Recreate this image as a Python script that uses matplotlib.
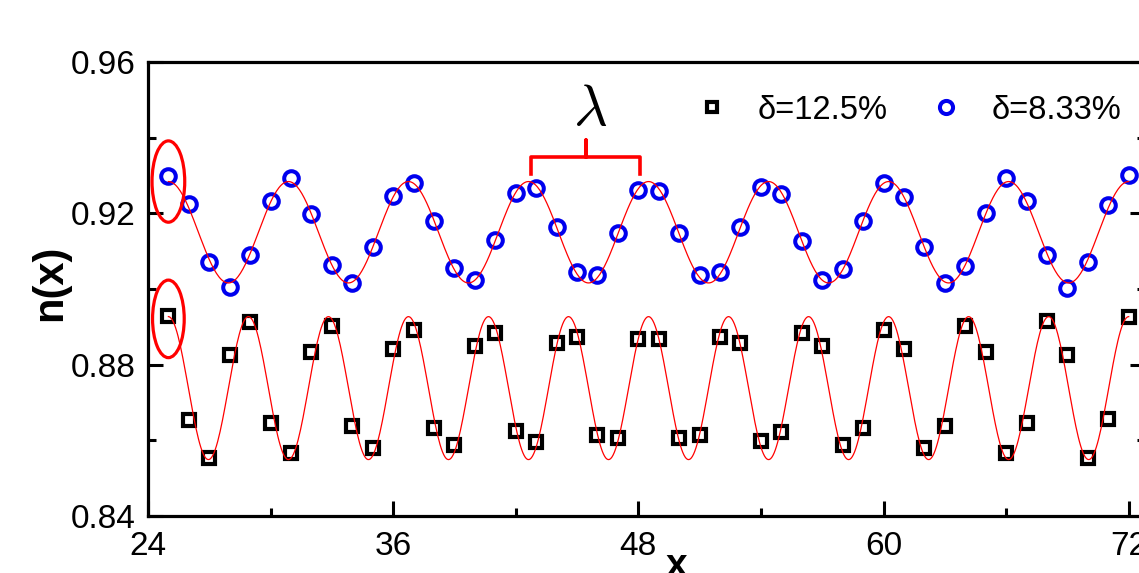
import matplotlib
matplotlib.use('Agg')
import matplotlib.pyplot as plt
from matplotlib.patches import Ellipse
from matplotlib.ticker import MultipleLocator
import numpy as np

plt.rcParams['font.family'] = ['Liberation Sans', 'DejaVu Sans']
plt.rcParams['mathtext.fontset'] = 'cm'

# sample positions
x = [25, 26, 27, 28, 29, 30, 31, 32, 33, 34, 35, 36, 37, 38, 39, 40,
     41, 42, 43, 44, 45, 46, 47, 48, 49, 50, 51, 52, 53, 54, 55, 56,
     57, 58, 59, 60, 61, 62, 63, 64, 65, 66, 67, 68, 69, 70, 71, 72]

# delta = 12.5 %
n_125 = [0.8929, 0.8654, 0.8552, 0.8825, 0.8914, 0.8647, 0.8567, 0.8834,
         0.8902, 0.8638, 0.8579, 0.8841, 0.8892, 0.8632, 0.8588, 0.8849,
         0.8883, 0.8625, 0.8596, 0.8858, 0.8874, 0.8614, 0.8605, 0.8867,
         0.8867, 0.8605, 0.8614, 0.8874, 0.8858, 0.8599, 0.8623, 0.8883,
         0.8849, 0.8588, 0.8632, 0.8892, 0.8841, 0.8579, 0.8638, 0.8902,
         0.8834, 0.8566, 0.8645, 0.8916, 0.8825, 0.8552, 0.8656, 0.8927]

# delta = 8.33 %
n_833 = [0.9299, 0.9225, 0.9072, 0.9004, 0.9090, 0.9233, 0.9293, 0.9198,
         0.9063, 0.9017, 0.9112, 0.9246, 0.9279, 0.9181, 0.9055, 0.9024,
         0.9129, 0.9253, 0.9268, 0.9165, 0.9046, 0.9037, 0.9147, 0.9262,
         0.9260, 0.9147, 0.9037, 0.9046, 0.9165, 0.9270, 0.9251, 0.9128,
         0.9024, 0.9052, 0.9181, 0.9281, 0.9244, 0.9110, 0.9015, 0.9062,
         0.9200, 0.9293, 0.9233, 0.9090, 0.9003, 0.9072, 0.9222, 0.9301]

# sine fits shown as red lines: mean, amplitude, wavelength, crest position
fit_125 = [0.8738, 0.0189, 47 / 12, 48.5]
fit_833 = [0.9150, 0.0134, 47 / 8, 48.5]

labels = ['\u03b4=12.5%', '\u03b4=8.33%']


def fit_curve(p, xs):
    return p[0] + p[1] * np.cos(2 * np.pi * (xs - p[3]) / p[2])


fig = plt.figure(figsize=(11.39, 5.73), dpi=100)
ax = fig.add_axes([0.1299, 0.0995, 0.8754, 0.7923])

xs = np.linspace(x[0], x[-1], 800)
ax.plot(x, n_125, ls='none', marker='s', ms=8.3, mew=3.0, mec='black',
        mfc='none', label=labels[0], zorder=3)
ax.plot(x, n_833, ls='none', marker='o', ms=10.5, mew=2.9, mec='#0000ee',
        mfc='none', label=labels[1], zorder=3)
ax.plot(xs, fit_curve(fit_125, xs), color='red', lw=0.9, zorder=4)
ax.plot(xs, fit_curve(fit_833, xs), color='red', lw=0.9, zorder=4)

# red ellipses round the first point of each series
ax.add_patch(Ellipse((x[0], n_833[0] - 0.0015), 1.6, 0.0215, fill=False,
                     ec='red', lw=2.3, zorder=5))
ax.add_patch(Ellipse((x[0], n_125[0] - 0.0008), 1.55, 0.0205, fill=False,
                     ec='red', lw=2.3, zorder=5))

# wavelength bracket
bx = [42.75, 42.75, 45.45, 45.45, 45.45, 48.1, 48.1]
by = [0.9305, 0.9350, 0.9350, 0.9395, 0.9350, 0.9350, 0.9305]
ax.plot(bx, by, color='red', lw=2.6, solid_joinstyle='round', zorder=5)
ax.text(45.65, 0.9473, r'$\lambda$', fontsize=42, ha='center', va='center')

ax.set_xlim(24, 72.8)
ax.set_ylim(0.84, 0.96)
ax.xaxis.set_major_locator(MultipleLocator(12))
ax.xaxis.set_minor_locator(MultipleLocator(6))
ax.yaxis.set_major_locator(MultipleLocator(0.04))
ax.yaxis.set_minor_locator(MultipleLocator(0.02))
ax.set_yticklabels([f'{v:.2f}' for v in ax.get_yticks()])

for s in ax.spines.values():
    s.set_linewidth(2.3)
ax.tick_params(which='both', direction='in', top=False, right=True,
               width=2.2, labelsize=24)
ax.tick_params(which='major', length=11)
ax.tick_params(which='minor', length=5.5)
ax.tick_params(axis='x', pad=11)
ax.tick_params(axis='y', pad=9)

fig.text(50 / 1139, 1 - 283 / 573, 'n(x)', rotation=90, fontsize=30,
         fontweight='bold', ha='center', va='center')
fig.text(677 / 1139, 1 - 566 / 573, 'x', fontsize=28, fontweight='bold',
         ha='center', va='center')

ax.legend(loc='center', bbox_to_anchor=(0.763, 0.894), ncol=2,
          frameon=False, fontsize=23.5, handlelength=1.0, handletextpad=0.9,
          columnspacing=1.3, borderpad=0.2, markerscale=0.9)

fig.savefig('out.png', dpi=100)
